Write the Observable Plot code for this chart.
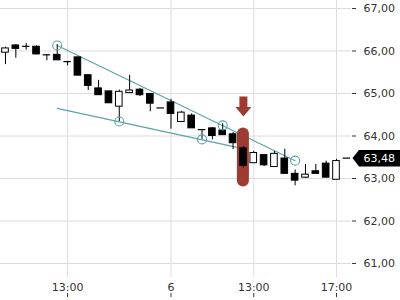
<!DOCTYPE html>
<html><head><meta charset="utf-8">
<script src="https://cdn.jsdelivr.net/npm/d3@7"></script>
<script src="https://cdn.jsdelivr.net/npm/@observablehq/plot@0.6"></script>
<style>html,body{margin:0;padding:0;background:#fff;} svg{display:block}</style>
</head><body><div id="chart"></div>
<script>
// Candles, 30-minute bars (index 0 = 10:00 day 5 ... index 33 = 17:30 day 6)
const open  = [65.96,66.13,66.11,66.10,65.91,65.91,65.75,65.85,65.43,65.12,65.05,64.69,65.01,65.09,64.99,64.66,64.79,64.33,64.48,64.15,64.18,64.13,64.04,63.71,63.36,63.55,63.27,63.47,63.11,63.02,63.17,63.35,62.97,63.48];
const high  = [66.09,66.15,66.18,66.12,65.91,66.15,65.75,65.85,65.43,65.31,65.05,65.08,65.43,65.12,64.99,64.66,64.86,64.58,64.52,64.15,64.20,64.29,64.08,63.75,63.64,63.55,63.64,63.69,63.20,63.33,63.33,63.41,63.45,63.48];
const low   = [65.68,65.83,66.02,65.91,65.77,65.78,65.65,65.42,65.07,64.96,64.77,64.34,65.01,64.93,64.57,64.66,64.16,64.33,64.18,63.92,63.91,64.02,63.68,63.25,63.36,63.28,63.27,63.11,62.83,63.00,63.11,63.02,62.97,63.48];
const close = [66.06,66.05,66.11,65.92,65.91,65.78,65.75,65.42,65.18,64.96,64.77,65.04,65.07,64.96,64.76,64.66,64.52,64.55,64.18,64.15,64.00,64.02,63.83,63.30,63.60,63.31,63.58,63.11,62.95,63.09,63.11,63.02,63.41,63.48];

const xTickIndex  = [6, 16, 24, 32];
const xTickLabels = ["13:00", "6", "13:00", "17:00"];
const yTicks = [61, 62, 63, 64, 65, 66, 67];
const lastPrice = [63.48];

// annotations
const upperTrend  = [{i: 5, v: 66.13}, {i: 28, v: 63.42}];
const lowerTrend  = [{i: 5, v: 64.65}, {i: 22.6, v: 63.72}];
const touchPoints = [{i: 5, v: 66.13}, {i: 11, v: 64.34}, {i: 19, v: 63.92}, {i: 21, v: 64.25}, {i: 28, v: 63.42}];
const highlight   = [{i: 23, lo: 62.80, hi: 64.19}];
const signalArrow = [{i: 23, v: 64.93}];

const teal = "#5ba3a6";
const red = "#9d3b33";

const data = open.map((o, i) => ({i, open: o, high: high[i], low: low[i], close: close[i]}));
const bodies = data.filter(d => d.open !== d.close);
const dojis = data.filter(d => d.open === d.close);

const fmt = d => d.toFixed(2).replace(".", ",");

const blockArrow = {
  draw(ctx) {
    ctx.moveTo(-4, 0); ctx.lineTo(4, 0); ctx.lineTo(4, 10.5); ctx.lineTo(8, 10.5);
    ctx.lineTo(0, 20); ctx.lineTo(-8, 10.5); ctx.lineTo(-4, 10.5); ctx.closePath();
  }
};
const tagShape = {
  draw(ctx) {
    ctx.moveTo(1, 0); ctx.lineTo(7.5, -8); ctx.lineTo(60, -8); ctx.lineTo(60, 8.5); ctx.lineTo(7.5, 8.5); ctx.closePath();
  }
};

const chart = Plot.plot({
  width: 400, height: 300,
  marginLeft: 0, marginRight: 49, marginTop: 0, marginBottom: 23,
  x: {type: "linear", domain: [-0.483, 33.45], label: null},
  y: {domain: [60.671, 67.188], label: null},
  style: {fontFamily: "DejaVu Sans", fontSize: "11px", color: "#333", background: "#fff"},
  marks: [
    Plot.gridY(yTicks, {stroke: "#dcdcdc", strokeOpacity: 1}),
    Plot.gridX(xTickIndex, {stroke: "#dcdcdc", strokeOpacity: 1}),
    Plot.line(upperTrend, {x: "i", y: "v", stroke: teal, strokeWidth: 1.1}),
    Plot.line(lowerTrend, {x: "i", y: "v", stroke: teal, strokeWidth: 1.1}),
    Plot.rect(highlight, {x1: d => d.i - 0.58, x2: d => d.i + 0.58, y1: "lo", y2: "hi", rx: 6, fill: red}),
    Plot.ruleX(data, {x: "i", y1: "low", y2: "high", stroke: "#000", strokeWidth: 1}),
    Plot.rect(bodies, {x1: d => d.i - 0.32, x2: d => d.i + 0.32, y1: "open", y2: "close",
      fill: d => d.close > d.open ? "#fff" : "#000", stroke: "#000", strokeWidth: 1}),
    Plot.ruleY(dojis, {y: "open", x1: d => d.i - 0.36, x2: d => d.i + 0.36, stroke: "#000", strokeWidth: 1.2}),
    Plot.dot(touchPoints, {x: "i", y: "v", r: 4.5, stroke: teal, fill: "none", strokeWidth: 1.1}),
    Plot.vector(signalArrow, {x: "i", y: "v", length: 10, anchor: "start", shape: blockArrow, fill: red, stroke: "none"}),
    Plot.axisY(yTicks, {anchor: "right", label: null, tickSize: 4, tickPadding: 8, tickFormat: fmt, fill: "#333", stroke: "#333"}),
    Plot.axisX(xTickIndex, {anchor: "bottom", label: null, tickSize: 0, tickPadding: 6, tickFormat: d => xTickLabels[xTickIndex.indexOf(d)], fill: "#333"}),
    Plot.axisX(xTickIndex, {anchor: "bottom", label: null, tickSize: 4, tickFormat: () => "", dy: 16, stroke: "#333"}),
    Plot.vector(lastPrice, {y: d => d, frameAnchor: "right", length: 10, anchor: "start", shape: tagShape, fill: "#000", stroke: "none"}),
    Plot.text(lastPrice, {y: d => d, frameAnchor: "right", dx: 12, text: fmt, textAnchor: "start", fill: "#fff", fontSize: 11})
  ]
});
document.getElementById("chart").appendChild(chart);
</script>
</body></html>
